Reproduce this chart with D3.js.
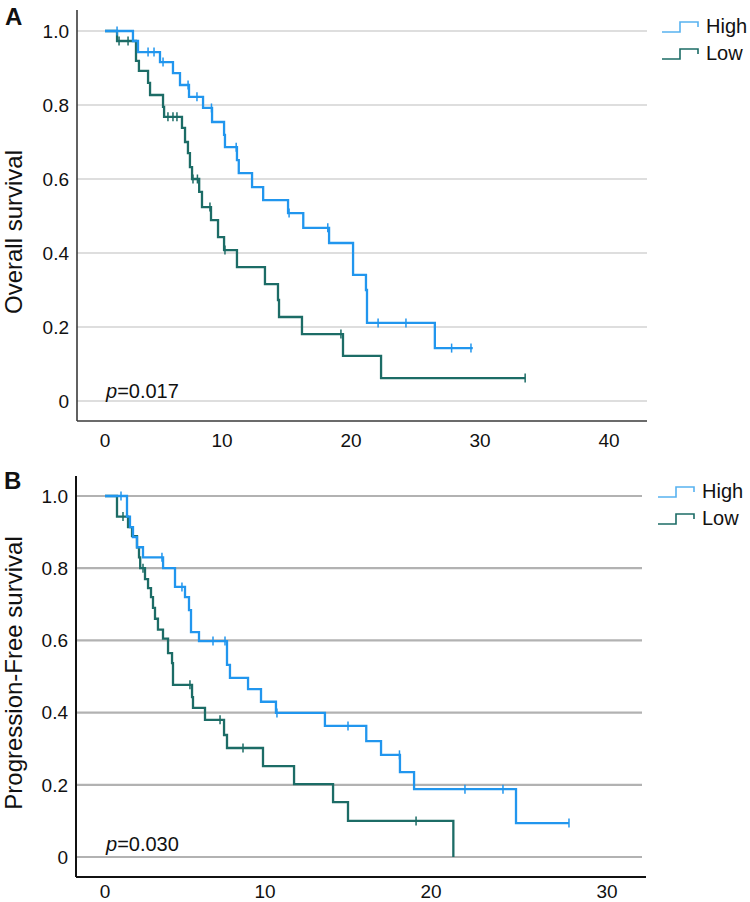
<!DOCTYPE html>
<html><head><meta charset="utf-8">
<script src="https://cdn.jsdelivr.net/npm/d3@7"></script>
<style>body{margin:0;background:#fff}svg{display:block}text{font-family:"Liberation Sans",Arial,sans-serif}</style>
</head><body>
<svg id="c" width="750" height="902"></svg>
<script>
// ---------- DATA ----------
const seriesNames = ["High", "Low"];
const yTicks = [0, 0.2, 0.4, 0.6, 0.8, 1.0];
const yTickLabels = ["0", "0.2", "0.4", "0.6", "0.8", "1.0"];
const xTicksA = [0, 10, 20, 30, 40];
const xTicksB = [0, 10, 20, 30];
const pValueA = "0.017";
const pValueB = "0.030";

// Overall survival: [time, survival after step]
const highA = [[0,1],[2.39,0.973],[2.82,0.943],[4.70,0.916],[5.81,0.886],[6.41,0.854],[7.18,0.822],[8.38,0.792],[9.15,0.754],[10.16,0.719],[10.23,0.686],[11.16,0.651],[11.3,0.616],[12.33,0.578],[13.19,0.543],[15.12,0.508],[16.3,0.468],[18.3,0.427],[20.16,0.341],[21.16,0.30],[21.24,0.211],[26.5,0.143],[29.44,0.143]];
const highACens = [[1.03,1],[3.68,0.943],[4.19,0.943],[4.96,0.916],[7.1,0.854],[7.86,0.822],[9.1,0.792],[11.1,0.686],[15.2,0.508],[18.2,0.468],[22.1,0.211],[24.26,0.211],[27.8,0.143],[29.3,0.143]];
const lowA = [[0,1],[1.03,0.973],[2.65,0.919],[2.9,0.892],[3.68,0.86],[3.85,0.827],[4.96,0.795],[5.05,0.768],[6.58,0.738],[6.84,0.70],[7.09,0.67],[7.26,0.632],[7.44,0.60],[8.05,0.565],[8.29,0.524],[9.06,0.489],[9.66,0.443],[10.16,0.408],[11.16,0.362],[13.33,0.316],[14.34,0.273],[14.42,0.227],[16.2,0.181],[19.38,0.122],[22.33,0.062],[33.5,0.062]];
const lowACens = [[1.2,0.973],[1.97,0.973],[5.38,0.768],[5.81,0.768],[6.15,0.768],[7.52,0.60],[7.9,0.60],[8.97,0.524],[10.23,0.408],[19.22,0.181],[33.5,0.062]];

// Progression-free survival
const highB = [[0,1],[1.375,0.943],[1.56,0.914],[1.75,0.886],[2.0,0.858],[2.375,0.83],[3.63,0.80],[4.375,0.748],[5.0,0.72],[5.25,0.684],[5.375,0.623],[5.875,0.598],[7.625,0.532],[7.81,0.496],[8.94,0.465],[9.75,0.43],[10.66,0.399],[13.61,0.363],[16.1,0.321],[16.99,0.283],[18.13,0.235],[18.98,0.188],[24.83,0.094],[27.84,0.094]];
const highBCens = [[1.0,1],[3.56,0.83],[4.81,0.748],[6.75,0.598],[7.5,0.598],[10.72,0.399],[15.0,0.363],[18.1,0.283],[21.93,0.188],[24.09,0.188],[27.84,0.094]];
const lowB = [[0,1],[0.75,0.943],[1.44,0.914],[1.69,0.889],[2.0,0.858],[2.125,0.83],[2.2,0.80],[2.5,0.77],[2.69,0.745],[2.875,0.72],[3.0,0.69],[3.125,0.66],[3.31,0.63],[3.625,0.605],[3.94,0.565],[4.19,0.537],[4.25,0.477],[5.44,0.443],[5.5,0.413],[6.25,0.38],[7.44,0.338],[7.625,0.302],[9.875,0.252],[11.75,0.202],[14.1,0.152],[15.0,0.10],[21.27,0]];
const lowBCens = [[1.125,0.943],[2.375,0.80],[5.31,0.477],[7.19,0.38],[8.625,0.302],[19.1,0.10]];

// ---------- DRAW ----------
const svg = d3.select("#c");
const colHigh = "#2196ee", colLow = "#1c6c66";
const legHigh = "#58b2f0";

function panel(cfg){
  const g = svg.append("g");
  const x = d3.scaleLinear().domain(cfg.xDom).range(cfg.xRange);
  const y = d3.scaleLinear().domain([0,1]).range(cfg.yRange);
  g.selectAll(".grid").data(yTicks).join("line")
    .attr("x1", cfg.axisX).attr("x2", cfg.gridEnd)
    .attr("y1", d=>y(d)).attr("y2", d=>y(d))
    .attr("stroke", cfg.gridCol).attr("stroke-width", cfg.gridW);
  g.selectAll(".yl").data(yTicks).join("text")
    .attr("x", cfg.axisX-8).attr("y", d=>y(d)).attr("dy","0.36em")
    .attr("text-anchor","end").attr("font-size",19).attr("fill","#111")
    .text((d,i)=>yTickLabels[i]);
  g.selectAll(".xl").data(cfg.xTicks).join("text")
    .attr("x", d=>x(d)).attr("y", cfg.xLabelY)
    .attr("text-anchor","middle").attr("font-size",19).attr("fill","#111")
    .text(d=>d);
  g.append("line").attr("x1",cfg.axisX).attr("x2",cfg.axisX).attr("y1",cfg.axisTop).attr("y2",cfg.axisY)
    .attr("stroke",cfg.axisCol).attr("stroke-width",cfg.axisW);
  g.append("line").attr("x1",cfg.axisX).attr("x2",cfg.axisEnd).attr("y1",cfg.axisY).attr("y2",cfg.axisY)
    .attr("stroke",cfg.axisCol).attr("stroke-width",cfg.axisW);
  const line = d3.line().x(d=>x(d[0])).y(d=>y(d[1])).curve(d3.curveStepAfter);
  const series = [[cfg.high, cfg.highC, colHigh],[cfg.low, cfg.lowC, colLow]];
  series.slice().reverse().forEach(([st, ce, col])=>{
    g.append("path").attr("d", line(st)).attr("fill","none").attr("stroke",col).attr("stroke-width",2.3);
    g.selectAll(null).data(ce).join("line")
      .attr("x1",d=>x(d[0])).attr("x2",d=>x(d[0]))
      .attr("y1",d=>y(d[1])-4.5).attr("y2",d=>y(d[1])+4.5)
      .attr("stroke",col).attr("stroke-width",1.5);
  });
  const pt = g.append("text").attr("x", x(0)+1).attr("y", cfg.pY).attr("font-size",20).attr("fill","#111");
  pt.append("tspan").attr("font-style","italic").text("p");
  pt.append("tspan").text("="+cfg.p);
  g.append("text").attr("transform",`translate(${cfg.yLabX},${cfg.yLabY}) rotate(-90)`)
    .attr("text-anchor","middle").attr("font-size",24).attr("fill","#111").text(cfg.yTitle);
  g.append("text").attr("x",cfg.letX).attr("y",cfg.letY).attr("font-size",24).attr("font-weight","bold").attr("fill","#111").text(cfg.letter);
  const lg = g.append("g").attr("transform",`translate(${cfg.legX},${cfg.legY})`);
  seriesNames.forEach((nm,i)=>{
    const yy = i*cfg.legDy;
    const c = i===0 ? legHigh : colLow;
    lg.append("path").attr("d",`M0,${yy+5}H18V${yy-5}H36V${yy}`).attr("fill","none").attr("stroke",c).attr("stroke-width",1.6);
    lg.append("text").attr("x",44).attr("y",yy+6).attr("font-size",20).attr("fill","#111").text(nm);
  });
}

panel({
  xDom:[0,10,20,30,40], xRange:[105,222,351,480,609], yRange:[401,31],
  xTicks:xTicksA, axisX:77, axisY:421, axisTop:10, axisEnd:647, gridEnd:647,
  gridCol:"#d3d3d3", gridW:1.5, axisCol:"#3a3a3a", axisW:1.6, xLabelY:447,
  high:highA, highC:highACens, low:lowA, lowC:lowACens,
  p:pValueA, pY:398, yTitle:"Overall survival", yLabX:22, yLabY:232,
  letter:"A", letX:5, letY:25, legX:662, legY:27, legDy:27
});
panel({
  xDom:[0,10,20,30], xRange:[105,265,431,607], yRange:[857,496],
  xTicks:xTicksB, axisX:76, axisY:877, axisTop:476, axisEnd:646, gridEnd:642,
  gridCol:"#b2b2b2", gridW:2.2, axisCol:"#111", axisW:2, xLabelY:898,
  high:highB, highC:highBCens, low:lowB, lowC:lowBCens,
  p:pValueB, pY:851, yTitle:"Progression-Free survival", yLabX:22, yLabY:673,
  letter:"B", letX:4, letY:489, legX:658, legY:492, legDy:27
});
</script>
</body></html>
